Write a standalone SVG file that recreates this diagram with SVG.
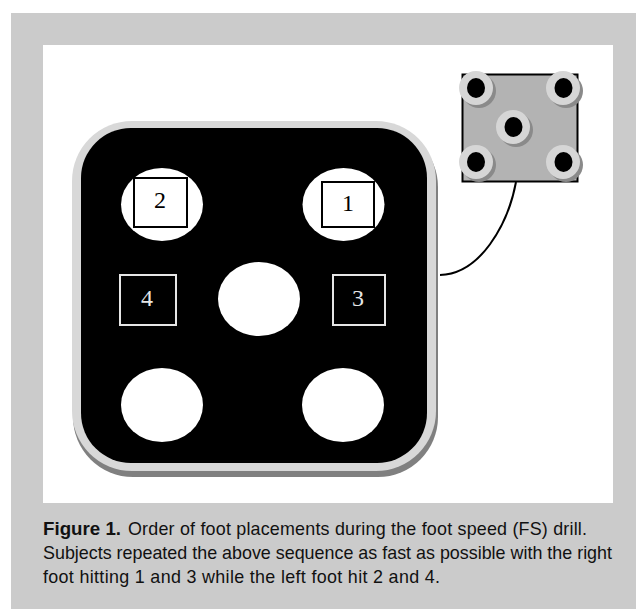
<svg xmlns="http://www.w3.org/2000/svg" width="636" height="609" viewBox="0 0 636 609">
<style>
.cap{font-family:"Liberation Sans",Arial,sans-serif;font-size:17.9px;fill:#111}
.n{font-family:"Liberation Serif","Times New Roman",serif;font-size:24px;text-anchor:middle}
.pad{fill:#fff}
.ring{fill:#d6d6d6}
.sh{fill:#8a8a8a}
.hole{fill:#000}
</style>
<rect width="636" height="609" fill="#fff"/>
<rect x="11" y="13" width="625" height="596" fill="#cbcbcb"/>
<rect x="43" y="45" width="570" height="458" fill="#fff"/>
<g id="connectors"><path d="M516 182C508 225 480 274 440 275" fill="none" stroke="#000" stroke-width="2"/></g>
<g id="mat">
<rect x="73" y="127" width="365" height="350" rx="60" fill="#808080"/>
<rect x="72" y="121" width="364" height="350" rx="60" fill="#d8d8d8"/>
<rect x="81" y="128" width="346" height="335" rx="50" fill="#000"/>
</g>
<g id="pad-2"><ellipse class="pad" cx="162" cy="204.500" rx="41" ry="36.500"/><rect x="134" y="178" width="53" height="49" fill="none" stroke="#000" stroke-width="2"/><text class="n" x="160" y="208">2</text></g>
<g id="pad-1"><ellipse class="pad" cx="343.500" cy="204.500" rx="41" ry="36.500"/><rect x="322" y="182" width="52" height="45" fill="none" stroke="#000" stroke-width="2"/><text class="n" x="348" y="211">1</text></g>
<g id="pad-center"><ellipse class="pad" cx="259" cy="299" rx="41" ry="37"/></g>
<g id="pad-4"><rect x="120" y="275" width="56" height="50" fill="none" stroke="#e6e6e6" stroke-width="2"/><text class="n" x="147" y="306" fill="#e6e6e6">4</text></g>
<g id="pad-3"><rect x="333" y="275" width="52" height="50" fill="none" stroke="#e6e6e6" stroke-width="2"/><text class="n" x="358" y="306" fill="#e6e6e6">3</text></g>
<g id="pad-bl"><ellipse class="pad" cx="162" cy="405" rx="41" ry="37"/></g>
<g id="pad-br"><ellipse class="pad" cx="343" cy="405" rx="41" ry="37"/></g>
<g id="controller">
<rect x="462.500" y="74.500" width="115" height="107" fill="#b3b3b3" stroke="#000" stroke-width="2"/>
<g id="s1"><circle class="sh" cx="479" cy="91" r="17"/><circle class="ring" cx="476" cy="88" r="17"/><ellipse class="hole" cx="476" cy="88" rx="9" ry="10"/></g>
<g id="s2"><circle class="sh" cx="566" cy="91" r="17"/><circle class="ring" cx="563" cy="88" r="17"/><ellipse class="hole" cx="563.500" cy="88" rx="9" ry="10"/></g>
<g id="s3"><circle class="sh" cx="516" cy="130" r="17"/><circle class="ring" cx="513" cy="127" r="17"/><ellipse class="hole" cx="513.500" cy="127" rx="9" ry="10"/></g>
<g id="s4"><circle class="sh" cx="479" cy="165" r="17"/><circle class="ring" cx="476" cy="162" r="17"/><ellipse class="hole" cx="476" cy="162" rx="9" ry="10"/></g>
<g id="s5"><circle class="sh" cx="566" cy="165" r="17"/><circle class="ring" cx="563" cy="162" r="17"/><ellipse class="hole" cx="563.500" cy="162" rx="9" ry="10"/></g>
</g>
<g id="caption">
<text class="cap" x="43" y="535" font-weight="700" font-size="18.800" textLength="78" lengthAdjust="spacingAndGlyphs">Figure 1.</text>
<text class="cap" x="128" y="535" textLength="459">Order of foot placements during the foot speed (FS) drill.</text>
<text class="cap" x="43" y="559" textLength="569">Subjects repeated the above sequence as fast as possible with the right</text>
<text class="cap" x="43" y="583" textLength="397">foot hitting 1 and 3 while the left foot hit 2 and 4.</text>
</g>
</svg>
